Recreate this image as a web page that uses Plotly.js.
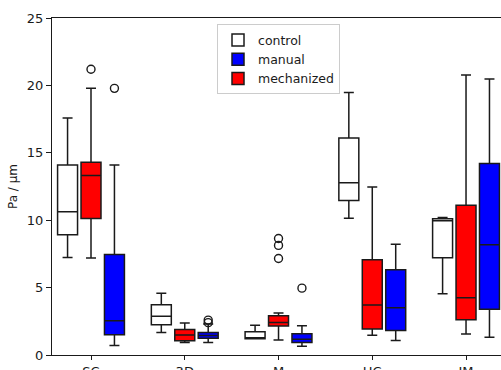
<!DOCTYPE html>
<html>
<head>
<meta charset="utf-8">
<script src="https://cdn.plot.ly/plotly-3.0.1.min.js"></script>
<style>html,body{margin:0;padding:0;background:#fff;}#chart{width:501px;height:370px;}</style>
</head>
<body>
<div id="chart"></div>
<script>
const categories = ['SC', '3D', 'M', 'HC', 'IM'];

const controlUpper  = [17.58, 4.58, 2.20, 19.48, 10.20];
const controlQ3     = [14.10, 3.73, 1.73, 16.10, 10.10];
const controlMedian = [10.62, 2.87, 1.21, 12.77, 9.95];
const controlQ1     = [8.92, 2.25, 1.21, 11.46, 7.21];
const controlLower  = [7.24, 1.66, 1.21, 10.15, 4.55];

const mechUpper  = [19.78, 2.37, 3.11, 12.47, 20.77];
const mechQ3     = [14.30, 1.90, 2.92, 7.07, 11.11];
const mechMedian = [13.31, 1.48, 2.42, 3.70, 4.25];
const mechQ1     = [10.13, 1.06, 2.15, 1.93, 2.62];
const mechLower  = [7.19, 0.92, 1.11, 1.46, 1.56];

const manualUpper  = [14.10, 2.30, 2.17, 8.22, 20.47];
const manualQ3     = [7.46, 1.66, 1.58, 6.33, 14.20];
const manualMedian = [2.55, 1.44, 1.16, 3.51, 8.18];
const manualQ1     = [1.51, 1.24, 0.92, 1.81, 3.39];
const manualLower  = [0.70, 0.92, 0.64, 1.07, 1.31];

const mechOutlierCat = [0, 2, 2, 2];
const mechOutlierVal = [21.2, 8.64, 8.13, 7.16];
const manualOutlierCat = [0, 1, 1, 2];
const manualOutlierVal = [19.78, 2.59, 2.40, 4.96];

const offsets = {control: -0.25, mechanized: 0, manual: 0.25};
const pos = (i, s) => i + 1 + offsets[s];
const idx = categories.map((c, i) => i);

function boxTrace(name, s, fill, q1, med, q3, lo, hi, rank) {
  return {
    type: 'box', name: name, legendrank: rank,
    x: idx.map(i => pos(i, s)),
    q1: q1, median: med, q3: q3, lowerfence: lo, upperfence: hi,
    width: 0.213, whiskerwidth: 0.5,
    fillcolor: fill,
    line: {color: '#1a1a1a', width: 1.5},
    boxpoints: false, hoverinfo: 'skip'
  };
}

const traces = [
  boxTrace('control', 'control', '#ffffff', controlQ1, controlMedian, controlQ3, controlLower, controlUpper, 1),
  boxTrace('manual', 'manual', '#0000ff', manualQ1, manualMedian, manualQ3, manualLower, manualUpper, 2),
  boxTrace('mechanized', 'mechanized', '#ff0000', mechQ1, mechMedian, mechQ3, mechLower, mechUpper, 3),
  {
    type: 'scatter', mode: 'markers', showlegend: false,
    x: mechOutlierCat.map(i => pos(i, 'mechanized')).concat(manualOutlierCat.map(i => pos(i, 'manual'))),
    y: mechOutlierVal.concat(manualOutlierVal),
    marker: {symbol: 'circle-open', size: 8, color: '#1a1a1a', line: {width: 1.4, color: '#1a1a1a'}}
  }
];

const layout = {
  width: 501, height: 370,
  margin: {l: 52, r: 0, t: 18, b: 15},
  paper_bgcolor: '#fff', plot_bgcolor: '#fff',
  font: {family: 'DejaVu Sans, sans-serif', size: 13, color: '#1a1a1a'},
  showlegend: true,
  legend: {
    x: 0.3675, y: 0.981, xanchor: 'left', yanchor: 'top',
    bgcolor: '#fff', bordercolor: '#cccccc', borderwidth: 1,
    font: {size: 12.5}, tracegroupgap: 0
  },
  xaxis: {
    range: [0.584, 5.373], tickvals: idx.map(i => i + 1), ticktext: categories,
    showgrid: false, zeroline: false, showline: true, linecolor: '#1a1a1a', linewidth: 1.2,
    mirror: true, ticks: 'outside', ticklen: 4, tickcolor: '#1a1a1a'
  },
  yaxis: {
    range: [0, 25], tickvals: [0, 5, 10, 15, 20, 25],
    showgrid: false, zeroline: false, showline: true, linecolor: '#1a1a1a', linewidth: 1.2,
    ticks: 'outside', ticklen: 5, tickcolor: '#1a1a1a',
    title: {text: 'Pa / µm', font: {size: 12}, standoff: 6}
  }
};

Plotly.newPlot('chart', traces, layout, {displayModeBar: false, staticPlot: true});
</script>
</body>
</html>
